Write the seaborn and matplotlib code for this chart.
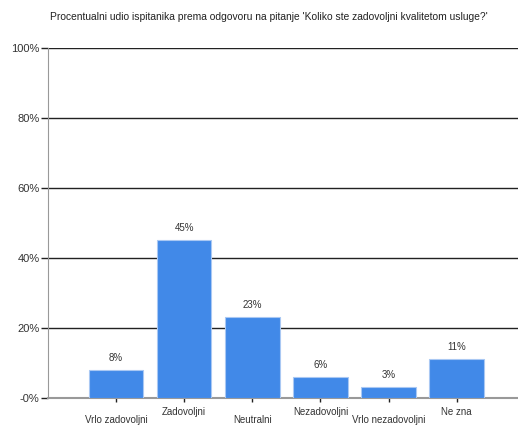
import numpy as np
import pandas as pd
import seaborn as sns
import matplotlib.pyplot as plt
from matplotlib.ticker import FuncFormatter

# DATA
categories = ['Vrlo zadovoljni', 'Zadovoljni', 'Neutralni', 'Nezadovoljni', 'Vrlo nezadovoljni', 'Ne zna']
percent = [8, 45, 23, 6, 3, 11]
title = "Procentualni udio ispitanika prema odgovoru na pitanje 'Koliko ste zadovoljni kvalitetom usluge?'"

df = pd.DataFrame({'Odgovor': categories, 'Procenat': percent})

sns.set_style("white")
plt.rcParams['font.family'] = ['Liberation Sans', 'DejaVu Sans']

fig = plt.figure(figsize=(5.18, 4.28), dpi=100)
ax = fig.add_axes([0.0927, 0.0701, 0.9073, 0.8189])

sns.barplot(data=df, x='Odgovor', y='Procenat', color='#4189E8', saturation=1,
            width=0.8, edgecolor='#a9c8f3', linewidth=0.8, ax=ax, zorder=3)

ax.set_ylim(0, 100)
ax.set_xlim(-1, 5.9)
ax.set_yticks([0, 20, 40, 60, 80, 100])
ax.yaxis.set_major_formatter(FuncFormatter(lambda v, p: '-0%' if v == 0 else f'{int(v)}%'))
for y in [20, 40, 60, 80, 100]:
    ax.axhline(y, color='#222222', linewidth=1.0, zorder=1)

# value labels
for i, v in enumerate(percent):
    ax.text(i, v + 2, f'{v}%', ha='center', va='bottom', fontsize=7, color='#333333')

# alternating tick labels
ax.set_xticks(range(len(categories)))
ax.set_xticklabels([])
for i, c in enumerate(categories):
    ax.annotate(c, xy=(i, 0), xycoords=('data', 'axes fraction'),
                xytext=(0, -16 if i % 2 == 0 else -10), textcoords='offset points',
                ha='center', va='center', fontsize=7, color='#333333', annotation_clip=False)

ax.set_xlabel('')
ax.set_ylabel('')
ax.tick_params(axis='y', left=True, length=5, width=1, color='#222222', labelsize=8, labelcolor='#333333', pad=1)
ax.tick_params(axis='x', bottom=True, length=3, width=1, color='#222222', direction='out')
for s in ['top', 'right']:
    ax.spines[s].set_visible(False)
ax.spines['left'].set_color('#999999')
ax.spines['bottom'].set_color('#999999')
ax.spines['bottom'].set_linewidth(1.5)

fig.text(0.52, 0.96, title, ha='center', va='center', fontsize=7.4, color='#222222')

fig.savefig('out.png', dpi=100)
